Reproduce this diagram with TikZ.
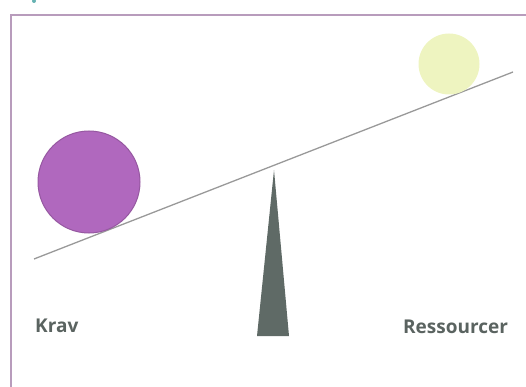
\documentclass[tikz,border=0pt]{standalone}
\usepackage{fontspec}
\setsansfont{Open Sans}
\usepackage{tikz}

\definecolor{rammefarve}{HTML}{B89CBC}
\definecolor{kravfarve}{HTML}{B068BE}
\definecolor{ressfarve}{HTML}{EEF4C0}
\definecolor{vippefarve}{HTML}{5F6A66}
\definecolor{tekstfarve}{HTML}{5A6360}

\begin{document}
\begin{tikzpicture}[x=1pt, y=-1pt,
    label/.style = {font=\sffamily\bfseries\fontsize{19}{19}\selectfont, text=tekstfarve, inner sep=0pt, anchor=base west}]
    \useasboundingbox (0,0) rectangle (526,387);
    % ramme
    \draw[rammefarve, line width=2pt] (11,387) -- (11,15) -- (526,15);
    \fill[teal!60] (34,1) circle (2);
    % vippe
    \coordinate (venstre) at (34,259);
    \coordinate (hoejre) at (513,72);
    \draw[gray!80, line width=1.3pt] (venstre) -- (hoejre);
    \fill[vippefarve] (257,336) -- (274,170) -- (289,336) -- cycle;
    % kugler
    \draw[kravfarve!85!black, line width=1pt, fill=kravfarve] (89,182) circle (51);
    \fill[ressfarve] (449,64) circle (30.5);
    % tekster
    \node[label] (krav) at (35,332) {Krav};
    \node[label] (ress) at (403,333) {Ressourcer};
\end{tikzpicture}
\end{document}
